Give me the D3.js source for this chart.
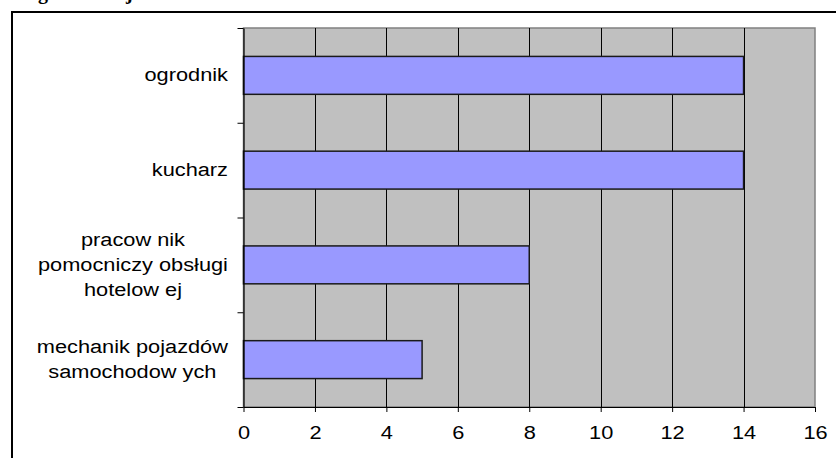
<!DOCTYPE html>
<html>
<head>
<meta charset="utf-8">
<script src="https://cdn.jsdelivr.net/npm/d3@7"></script>
<style>
  html, body { margin: 0; padding: 0; background: #fff; }
  svg { display: block; }
  text { font-family: "Liberation Sans", Arial, sans-serif; fill: #000; }
</style>
</head>
<body>
<svg id="chart" width="836" height="458"></svg>
<script>
// ---- data ----
const categories = ["ogrodnik", "kucharz", "pracownik pomocniczy obsługi hotelowej", "mechanik pojazdów samochodowych"];
const categoryLines = [
  ["ogrodnik"],
  ["kucharz"],
  ["pracow nik", "pomocniczy obsługi", "hotelow ej"],
  ["mechanik pojazdów", "samochodow ych"]
];
const values = [14, 14, 8, 5];
const xTicks = [0, 2, 4, 6, 8, 10, 12, 14, 16];

// ---- layout ----
const svg = d3.select("#chart");
const plot = { left: 243.5, right: 815, top: 28, bottom: 407 };
const sx = 1.21;      // horizontal stretch of text as in the reference
const fontSize = 18;

svg.append("rect").attr("width", 836).attr("height", 458).attr("fill", "#fff");

// cut-off title fragments (only descenders visible, as in the reference)
svg.append("text").attr("x", 38).attr("y", -1).attr("font-weight", "bold").attr("font-size", 20)
  .style("font-family", "'Liberation Serif', serif").text("g");
svg.append("text").attr("x", 126).attr("y", -1).attr("font-weight", "bold").attr("font-size", 20)
  .style("font-family", "'Liberation Serif', serif").text("j");

// outer frame
svg.append("rect").attr("x", 12).attr("y", 12).attr("width", 900).attr("height", 500)
  .attr("fill", "none").attr("stroke", "#000").attr("stroke-width", 2);

const x = d3.scaleLinear().domain([0, 16]).range([plot.left, plot.right]);
const y = d3.scaleBand().domain(categories).range([plot.top, plot.bottom])
  .paddingInner(0.6).paddingOuter(0.3);
const yEdges = d3.scaleLinear().domain([0, categories.length]).range([plot.top, plot.bottom]);

// plot area
svg.append("rect").attr("x", plot.left).attr("y", plot.top)
  .attr("width", plot.right - plot.left).attr("height", plot.bottom - plot.top)
  .attr("fill", "#c0c0c0").attr("stroke", "#808080").attr("stroke-width", 1.5);

// gridlines
svg.append("g").selectAll("line").data(xTicks.filter(d => d > 0 && d < 16)).join("line")
  .attr("x1", d => Math.round(x(d)) + 0.5).attr("x2", d => Math.round(x(d)) + 0.5)
  .attr("y1", plot.top).attr("y2", plot.bottom)
  .attr("stroke", "#000").attr("stroke-width", 1);

// bars
svg.append("g").selectAll("rect").data(categories).join("rect")
  .attr("x", x(0))
  .attr("y", d => y(d))
  .attr("width", (d, i) => x(values[i]) - x(0))
  .attr("height", y.bandwidth())
  .attr("fill", "#9999ff").attr("stroke", "#1a1a1a").attr("stroke-width", 1.5);

// x axis
const xAxis = svg.append("g").attr("transform", `translate(0,${plot.bottom})`)
  .call(d3.axisBottom(x).tickValues(xTicks).tickSize(5).tickSizeOuter(0).tickPadding(14));
xAxis.select(".domain").attr("stroke", "#000").attr("stroke-width", 1.2);
xAxis.selectAll(".tick line").attr("stroke", "#000");
xAxis.selectAll("text").attr("font-size", fontSize)
  .style("font-family", "'Liberation Sans', Arial, sans-serif")
  .attr("transform", `scale(${sx},1)`);

// y axis (ticks at category boundaries)
const yAxis = svg.append("g").attr("transform", `translate(${plot.left},0)`)
  .call(d3.axisLeft(yEdges).tickValues(d3.range(0, categories.length + 1)).tickSize(6).tickSizeOuter(0).tickFormat(""));
yAxis.select(".domain").attr("stroke", "#000").attr("stroke-width", 1.2);
yAxis.selectAll(".tick line").attr("stroke", "#000");

// category labels
const labelRight = 228;
const lineH = 25;
const lg = svg.append("g");
categories.forEach((c, i) => {
  const lines = categoryLines[i];
  const cy = y(c) + y.bandwidth() / 2;
  const texts = lines.map(t => lg.append("text").attr("font-size", fontSize).attr("text-anchor", "middle").text(t));
  const widths = texts.map(el => el.node().getComputedTextLength() * sx);
  const blockW = d3.max(widths);
  const cx = labelRight - blockW / 2;
  texts.forEach((el, j) => {
    const ly = cy + (j - (lines.length - 1) / 2) * lineH;
    el.attr("transform", `translate(${cx},${ly}) scale(${sx},1)`).attr("dy", "0.33em");
  });
});
</script>
</body>
</html>
